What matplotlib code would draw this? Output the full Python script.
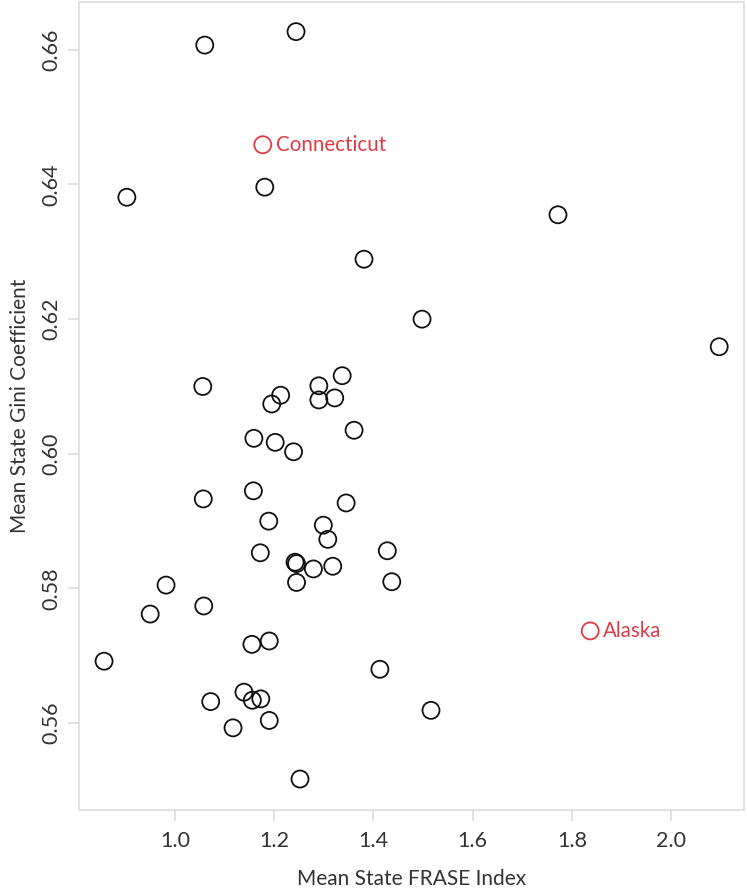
import matplotlib
matplotlib.use("Agg")
import matplotlib.pyplot as plt

# Mean State FRASE Index (x) and Mean State Gini Coefficient (y)
frase = [1.060, 1.244, 1.181, 0.903, 1.772, 1.381, 1.498, 2.097,
         1.056, 1.337, 1.290, 1.213, 1.195, 1.290, 1.322, 1.361,
         1.159, 1.202, 1.239, 1.057, 1.158, 1.345, 1.189, 1.299,
         1.308, 1.172, 1.428, 1.242, 1.245, 1.279, 1.318, 1.245,
         1.437, 0.982, 0.950, 1.058, 1.190, 1.155, 0.857, 1.413,
         1.139, 1.072, 1.156, 1.173, 1.516, 1.190, 1.117, 1.252]
gini = [0.6607, 0.6627, 0.6396, 0.6381, 0.6355, 0.6289, 0.6200, 0.6159,
        0.6100, 0.6116, 0.6101, 0.6087, 0.6074, 0.6080, 0.6083, 0.6035,
        0.6023, 0.6017, 0.6003, 0.5933, 0.5945, 0.5927, 0.5900, 0.5894,
        0.5873, 0.5853, 0.5856, 0.5839, 0.5837, 0.5829, 0.5833, 0.5809,
        0.5810, 0.5805, 0.5762, 0.5774, 0.5722, 0.5717, 0.5692, 0.5680,
        0.5646, 0.5632, 0.5634, 0.5636, 0.5619, 0.5604, 0.5593, 0.5517]

hl_names = ["Connecticut", "Alaska"]
hl_frase = [1.177, 1.837]
hl_gini = [0.6459, 0.5737]

xticks = [1.0, 1.2, 1.4, 1.6, 1.8, 2.0]
yticks = [0.56, 0.58, 0.60, 0.62, 0.64, 0.66]

plt.rcParams['font.family'] = ['Lato', 'DejaVu Sans']

fig = plt.figure(figsize=(7.47, 8.90), dpi=100)
ax = fig.add_axes([79/747, 1-810/890, (744-79)/747, (810-2)/890])

red = '#e03a45'
ax.scatter(frase, gini, s=150, facecolors='none', edgecolors='#111111',
           linewidths=1.3, zorder=3)
ax.scatter(hl_frase, hl_gini, s=150, facecolors='none', edgecolors=red,
           linewidths=1.3, zorder=3)
for n, xv, yv in zip(hl_names, hl_frase, hl_gini):
    ax.annotate(n, (xv, yv), xytext=(9.5, 0), textcoords='offset points',
                color=red, fontsize=14.8, va='center', ha='left')

ax.set_xlim(0.8065, 2.147)
ax.set_ylim(0.5471, 0.6671)
ax.set_xticks(xticks)
ax.set_xticklabels([f"{t:.1f}" for t in xticks])
ax.set_yticks(yticks)
ax.set_yticklabels([f"{t:.2f}" for t in yticks], rotation=90, va='center')

for sp in ax.spines.values():
    sp.set_color('#dddddd')
    sp.set_linewidth(1.2)
ax.tick_params(axis='both', colors='#dddddd', length=8, width=1.2,
               labelcolor='#333333', labelsize=15.5, pad=7)
ax.tick_params(axis='y', pad=5)

ax.set_xlabel("Mean State FRASE Index", fontsize=15, color='#333333', labelpad=13)
ax.set_ylabel("Mean State Gini Coefficient", fontsize=15, color='#333333', labelpad=8)

fig.savefig("out.png", dpi=100)
